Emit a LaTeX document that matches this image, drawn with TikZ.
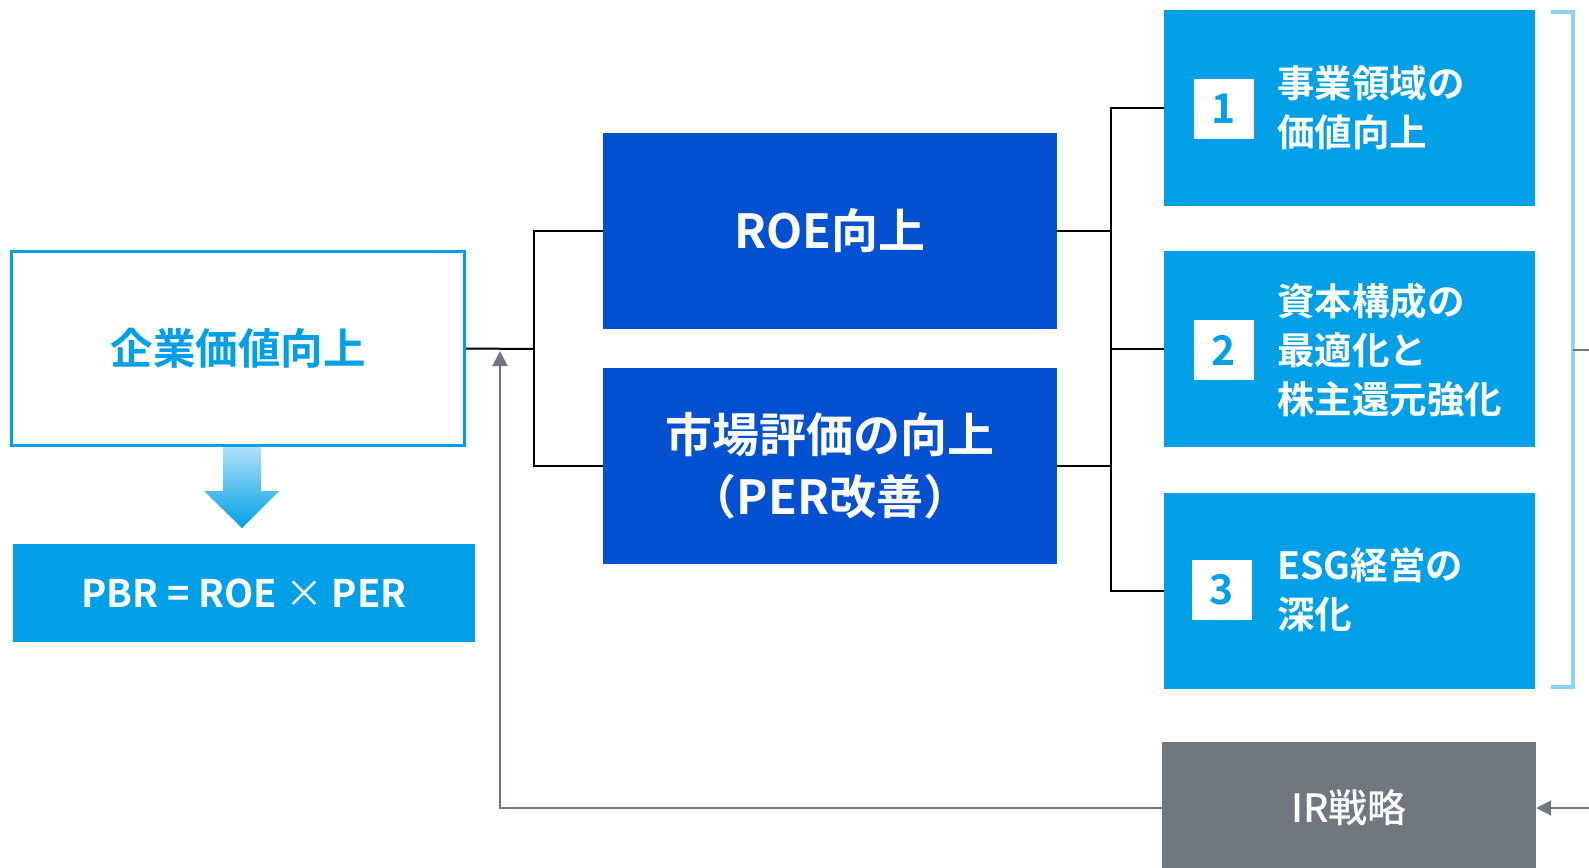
\documentclass[tikz,border=0pt]{standalone}
\usepackage{fontspec}
\setmainfont{Noto Sans CJK JP}[BoldFont={Noto Sans CJK JP Bold}]
\newfontfamily\medfont{Noto Sans CJK JP Medium}
\usepackage{xcolor}
\usetikzlibrary{arrows.meta}
\definecolor{skyblue}{HTML}{00A0E9}
\definecolor{royal}{HTML}{0350D0}
\definecolor{slate}{HTML}{717780}
\definecolor{paleblue}{HTML}{8DD3F4}
\tikzstyle{mainbox} = [rectangle, minimum width=453pt, minimum height=194pt, inner sep=0pt,
draw=skyblue, line width=3pt, fill=white, text=skyblue, font=\fontsize{42.5}{50}\selectfont\bfseries]
\tikzstyle{formula} = [rectangle, minimum width=462pt, minimum height=98pt, inner sep=0pt,
fill=skyblue, text=white, font=\fontsize{38}{40}\selectfont\bfseries]
\tikzstyle{midbox} = [rectangle, minimum width=454pt, minimum height=196pt, inner sep=0pt,
fill=royal, text=white, align=center, font=\fontsize{47}{62}\selectfont\bfseries]
\tikzstyle{sidebox} = [rectangle, minimum width=371pt, minimum height=196pt, inner sep=0pt, fill=skyblue]
\tikzstyle{numbox} = [rectangle, minimum size=60pt, inner sep=0pt, fill=white, text=skyblue,
font=\fontsize{41}{41}\selectfont\bfseries]
\tikzstyle{sidetext} = [anchor=west, inner sep=0pt, align=left, text=white,
font=\fontsize{37.5}{49}\selectfont\bfseries]
\tikzstyle{irbox} = [rectangle, minimum width=374pt, minimum height=132pt, inner sep=0pt,
fill=slate, text=white, font=\fontsize{39}{40}\selectfont\medfont]
\tikzstyle{line} = [line width=2pt, black]
\tikzstyle{grayarrow} = [line width=2pt, slate, -{Triangle[length=15pt,width=15pt]}]

\begin{document}
\begin{tikzpicture}[x=1pt, y=-1pt]
        \useasboundingbox (0,0) rectangle (1589,867);
        \clip (0,0) rectangle (1589,867);

        \node[mainbox] (corp) at (238,348.5) {企業価値向上};
        \node[formula] (pbr) at (244,593) {PBR = ROE {\mdseries ×} PER};
        \shade[top color=paleblue!70!white, bottom color=skyblue]
            (223,447) -- (261,447) -- (261,491) -- (279,491) -- (242,528)
            -- (204,491) -- (223,491) -- cycle;

        \node[midbox] (roe) at (830,231) {ROE向上};
        \node[midbox] (mkt) at (830,466) {市場評価の向上\\（PER改善）};

        \node[sidebox] (b1) at (1349.5,108) {};
        \node[sidebox] (b2) at (1349.5,349) {};
        \node[sidebox] (b3) at (1349.5,591) {};
        \node[numbox] (n1) at (1223.5,109) {1};
        \node[numbox] (n2) at (1223.5,350) {2};
        \node[numbox] (n3) at (1221.5,590) {3};
        \node[sidetext] (t1) at (1277,108) {事業領域の\\価値向上};
        \node[sidetext] (t2) at (1277,350) {資本構成の\\最適化と\\株主還元強化};
        \node[sidetext] (t3) at (1277,590) {ESG経営の\\深化};

        \node[irbox] (ir) at (1349,808) {IR戦略};

        % tree connectors
        \coordinate (fork1) at (534,349);
        \coordinate (fork2) at (1111,349);
        \draw[line] (corp.east) -- (fork1);
        \draw[line] (fork1) |- (roe.west);
        \draw[line] (fork1) |- (mkt.west);
        \draw[line] (roe.east) -- (roe.east -| fork2);
        \draw[line] (mkt.east) -- (mkt.east -| fork2);
        \draw[line] (fork2) |- (b1.west);
        \draw[line] (fork2) |- (b2.west);
        \draw[line] (fork2) |- (b3.west);

        % bracket and IR feedback
        \coordinate (irtip) at (500,351);
        \coordinate (irin) at (1589,808);
        \coordinate (brk) at (1573,350);
        \coordinate (brkend) at (1589,350);
        \draw[paleblue, line width=4pt] (1551,12) -- (1573,12) -- (1573,687) -- (1551,687);
        \draw[line width=2pt, slate] (brk) -- (brkend);
        \draw[grayarrow] (ir.west) -| (irtip);
        \draw[grayarrow] (irin) -- (ir.east);

    \end{tikzpicture}
\end{document}
